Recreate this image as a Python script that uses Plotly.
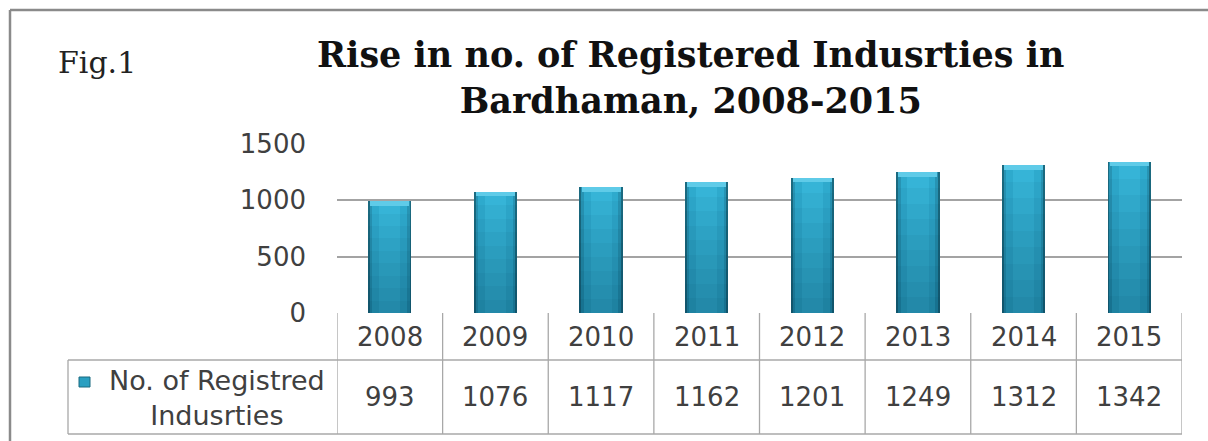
import plotly.graph_objects as go

# ---------------- data ----------------
years = ['2008', '2009', '2010', '2011', '2012', '2013', '2014', '2015']
values = [993, 1076, 1117, 1162, 1201, 1249, 1312, 1342]
y_ticks = [0, 500, 1000, 1500]
series_label = 'No. of Registred<br>Indusrties'
title_lines = ['Rise in no. of Registered Indusrties in', 'Bardhaman, 2008-2015']
fig_label = 'Fig.1'

# ---------------- geometry helpers (pixel -> paper) ----------------
W, H = 1208, 441


def px(x):
    return x / W


def py(y):
    return 1 - y / H


plot_left, plot_right = 337, 1182
plot_top, plot_bottom = 144, 313
row_split, table_bottom = 360, 434
legend_left = 68

num_font = dict(family='DejaVu Sans', size=26, color='#404040')
grid_col = '#a3a3a3'

fig = go.Figure()

# cylinder-like bars built from overlaid layers
layers = [
    (0.41, '#1b6a80'),
    (0.375, '#2794b4'),
    (0.33, '#2eaacd'),
    (0.2, '#36b4d7'),
]
for w, c in layers:
    fig.add_trace(go.Bar(x=years, y=values, width=w, marker=dict(color=c, line=dict(width=0)),
                         showlegend=False, hoverinfo='skip'))
# soft darkening toward the bottom of each bar (translucent overlays)
n_shade = 8
for k in range(1, n_shade + 1):
    frac = k / (n_shade + 1)
    fig.add_trace(go.Bar(x=years, y=[v * frac for v in values], width=0.41,
                         marker=dict(color='rgba(10,55,75,0.045)', line=dict(width=0)),
                         showlegend=False, hoverinfo='skip'))
# lighter top cap
cap = 40
fig.add_trace(go.Bar(x=years, y=[cap] * len(values), base=[v - cap for v in values], width=0.37,
                     marker=dict(color='#5fcbe8', line=dict(width=0)), showlegend=False,
                     hovertemplate='%{x}: %{customdata}<extra></extra>', customdata=values))

shapes = []
line_style = dict(color='#a8a8a8', width=1.3)
# table: row separator and bottom
for yy in (row_split, table_bottom):
    shapes.append(dict(type='line', xref='paper', yref='paper', x0=px(legend_left), x1=px(plot_right),
                       y0=py(yy), y1=py(yy), line=line_style))
# vertical separators between category columns
for i in range(len(years) + 1):
    shapes.append(dict(type='line', xref='x', yref='paper', x0=i - 0.5, x1=i - 0.5,
                       y0=py(plot_bottom), y1=py(table_bottom), line=line_style))
# legend cell left edge
shapes.append(dict(type='line', xref='paper', yref='paper', x0=px(legend_left), x1=px(legend_left),
                   y0=py(row_split), y1=py(table_bottom), line=line_style))
# legend key
shapes.append(dict(type='rect', xref='paper', yref='paper', x0=px(79), x1=px(90), y0=py(387), y1=py(377),
                   fillcolor='#2a9fc1', line=dict(color='#1b6a80', width=1)))
# outer frame
frame = dict(color='#8a8a8a', width=2.5)
shapes.append(dict(type='line', xref='paper', yref='paper', x0=px(10), x1=px(10), y0=py(10), y1=0, line=frame))
shapes.append(dict(type='line', xref='paper', yref='paper', x0=px(10), x1=1, y0=py(10), y1=py(10), line=frame))

annotations = []
for i, (yr, v) in enumerate(zip(years, values)):
    annotations.append(dict(x=i, xref='x', y=py(337), yref='paper', text=yr, showarrow=False,
                            font=num_font, xanchor='center', yanchor='middle'))
    annotations.append(dict(x=i, xref='x', y=py(397), yref='paper', text=str(v), showarrow=False,
                            font=num_font, xanchor='center', yanchor='middle'))
annotations.append(dict(x=px(217), y=py(398), xref='paper', yref='paper', text=series_label, showarrow=False,
                        font=dict(family='DejaVu Sans', size=27, color='#404040'), align='center',
                        xanchor='center', yanchor='middle'))
annotations.append(dict(x=px(690), y=py(77), xref='paper', yref='paper',
                        text='<b>' + '<br>'.join(title_lines) + '</b>',
                        showarrow=False, font=dict(family='DejaVu Serif', size=35, color='#111111'),
                        align='center', xanchor='center', yanchor='middle'))
annotations.append(dict(x=px(56), y=py(63), xref='paper', yref='paper', text=fig_label, showarrow=False,
                        font=dict(family='DejaVu Serif', size=30, color='#222222'),
                        xanchor='left', yanchor='middle'))

fig.update_layout(
    width=W, height=H,
    margin=dict(l=0, r=0, t=0, b=0, pad=0, autoexpand=False),
    paper_bgcolor='white', plot_bgcolor='white',
    barmode='overlay', bargap=0,
    xaxis=dict(type='category', domain=[px(plot_left), px(plot_right)], range=[-0.5, len(years) - 0.5],
               showticklabels=False, showgrid=False, zeroline=False, showline=False, ticks='',
               automargin=False),
    yaxis=dict(domain=[py(plot_bottom), py(plot_top)], range=[0, 1500], tickvals=y_ticks,
               showgrid=True, gridcolor=grid_col, gridwidth=1.5, zeroline=False, showline=False,
               tickfont=num_font, ticks='', ticklabelstandoff=30, automargin=False),
    shapes=shapes,
    annotations=annotations,
    showlegend=False,
)

fig.write_html('out.html')
